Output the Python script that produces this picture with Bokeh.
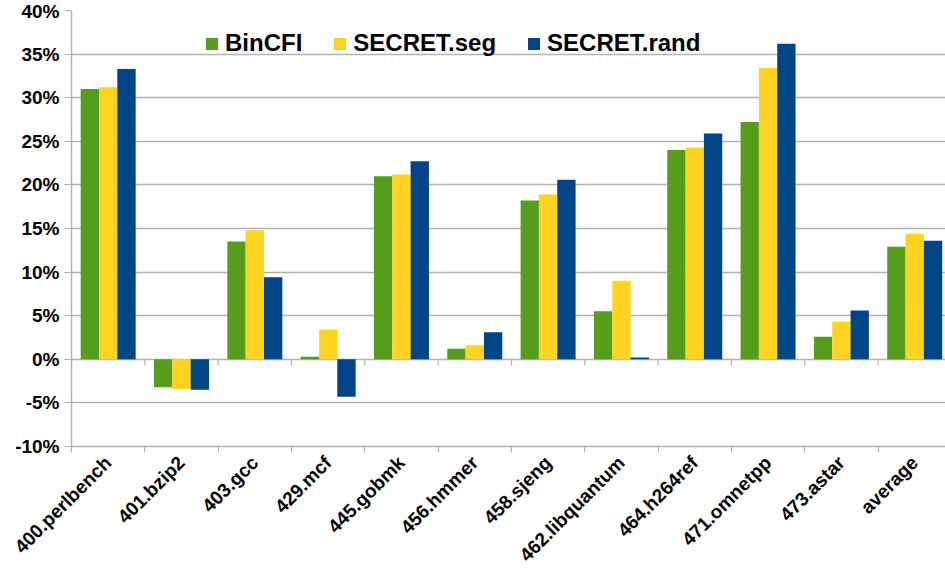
import math
from bokeh.plotting import figure
from bokeh.models import Range1d, FixedTicker, PrintfTickFormatter, Legend, LegendItem
from bokeh.embed import file_html
from bokeh.resources import INLINE

categories = ["400.perlbench", "401.bzip2", "403.gcc", "429.mcf", "445.gobmk",
              "456.hmmer", "458.sjeng", "462.libquantum", "464.h264ref",
              "471.omnetpp", "473.astar", "average"]
bincfi = [31.0, -3.2, 13.5, 0.3, 21.0, 1.2, 18.2, 5.5, 24.0, 27.2, 2.6, 12.9]
secret_seg = [31.2, -3.4, 14.8, 3.4, 21.2, 1.6, 18.9, 9.0, 24.3, 33.4, 4.3, 14.4]
secret_rand = [33.3, -3.5, 9.4, -4.3, 22.7, 3.1, 20.6, 0.2, 25.9, 36.2, 5.6, 13.6]
series_names = ["BinCFI", "SECRET.seg", "SECRET.rand"]
y_ticks = [-10, -5, 0, 5, 10, 15, 20, 25, 30, 35, 40]

colors = ["#579d1c", "#ffd320", "#004586"]
FONT = "Liberation Sans"
GRID = "#b3b3b3"

n = len(categories)
centers = [i + 0.5 for i in range(n)]
bounds = list(range(n + 1))

p = figure(width=945, height=575, output_backend="svg", toolbar_location=None,
           x_range=Range1d(0, 11.92), y_range=Range1d(-10, 40),
           min_border_left=71, min_border_right=0, min_border_top=10,
           min_border_bottom=129)
p.outline_line_color = None
p.background_fill_color = "white"
p.border_fill_color = "white"

items = []
for k, (vals, name) in enumerate(zip([bincfi, secret_seg, secret_rand], series_names)):
    xs = [i + 0.25 * (k + 1) for i in range(n)]
    r = p.vbar(x=xs, top=vals, bottom=0, width=0.25, fill_color=colors[k],
               line_color=None)
    items.append(LegendItem(label=name, renderers=[r]))

# tick marks on the zero line at category boundaries
p.segment(x0=bounds, y0=[0] * len(bounds), x1=bounds, y1=[-0.7] * len(bounds),
          line_color=GRID, line_width=1.2)

legend = Legend(items=items, orientation="horizontal", location=(133, 389),
                glyph_width=15, glyph_height=15, label_standoff=6, spacing=30,
                padding=0, margin=0, border_line_color=None,
                background_fill_alpha=0,
                label_text_font=FONT, label_text_font_style="bold",
                label_text_font_size="24px", label_text_color="black",
                label_height=20)
p.add_layout(legend, "center")

p.xgrid.grid_line_color = None
p.ygrid.ticker = FixedTicker(ticks=y_ticks)
p.ygrid.grid_line_color = GRID
p.ygrid.grid_line_width = 1.5

ya = p.yaxis[0]
ya.ticker = FixedTicker(ticks=y_ticks)
ya.formatter = PrintfTickFormatter(format="%d%%")
ya.axis_line_color = GRID
ya.axis_line_width = 1.5
ya.major_tick_line_color = GRID
ya.major_tick_line_width = 1.2
ya.major_tick_out = 7
ya.major_tick_in = 0
ya.minor_tick_line_color = None
ya.major_label_text_font = FONT
ya.major_label_text_font_style = "bold"
ya.major_label_text_font_size = "19px"
ya.major_label_text_color = "black"
ya.major_label_standoff = 5

xa = p.xaxis[0]
xa.ticker = FixedTicker(ticks=centers, minor_ticks=bounds)
xa.major_label_overrides = {c: lab for c, lab in zip(centers, categories)}
xa.axis_line_color = GRID
xa.axis_line_width = 1.5
xa.major_tick_out = 0
xa.major_tick_in = 0
xa.minor_tick_line_color = GRID
xa.minor_tick_line_width = 1.2
xa.minor_tick_out = 6
xa.minor_tick_in = 0
xa.major_label_orientation = math.pi / 4
xa.major_label_text_font = FONT
xa.major_label_text_font_style = "bold"
xa.major_label_text_font_size = "19px"
xa.major_label_text_color = "black"
xa.major_label_standoff = 7

open("out.html", "w").write(file_html(p, INLINE))
